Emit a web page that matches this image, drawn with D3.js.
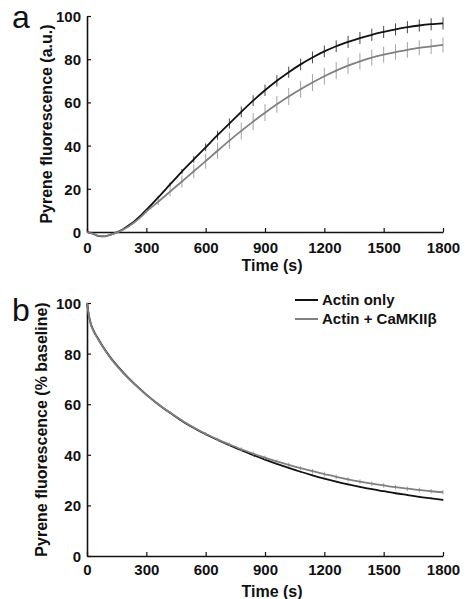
<!DOCTYPE html>
<html>
<head>
<meta charset="utf-8">
<script src="https://cdn.jsdelivr.net/npm/d3@7"></script>
<style>
  body { margin: 0; background: #fff; }
  svg { display: block; font-family: "Liberation Sans", Arial, sans-serif; }
  .tick text { font-size: 15px; font-weight: bold; fill: #111; }
  .lab { font-size: 16px; font-weight: bold; fill: #111; }
  .panel { font-size: 32px; fill: #111; }
</style>
</head>
<body>
<svg id="chart" width="467" height="599"></svg>
<script>
// Panel a: polymerization (a.u.)
const timeA = [0, 30, 60, 90, 120, 150, 180, 210, 240, 270, 300, 360, 420, 480, 540, 600, 660, 720, 780, 840, 900, 960, 1020, 1080, 1140, 1200, 1260, 1320, 1380, 1440, 1500, 1560, 1620, 1680, 1740, 1800];
const actinA = [0, -0.8, -1.9, -2.0, -1.2, -0.2, 1.2, 3.0, 5.0, 7.5, 10.2, 16.0, 22.0, 28.0, 33.6, 39.2, 44.8, 50.2, 55.6, 60.8, 65.6, 70.0, 74.0, 77.6, 80.8, 83.6, 86.0, 88.0, 89.8, 91.3, 92.6, 93.8, 94.8, 95.6, 96.2, 96.6];
const camkA = [0, -0.8, -1.8, -1.9, -1.2, -0.3, 1.0, 2.6, 4.5, 6.8, 9.4, 14.0, 18.7, 23.4, 28.1, 32.8, 37.6, 42.3, 46.8, 51.1, 55.2, 59.1, 62.7, 66.1, 69.2, 72.1, 74.7, 77.0, 79.0, 80.7, 82.1, 83.3, 84.3, 85.2, 85.9, 86.6];
const actinErrA = [0, 0, 0, 0, 0, 0, 0, 0, 0, 0, 0.4, 0.6, 0.9, 1.2, 1.5, 1.8, 2.1, 2.3, 2.5, 2.5, 2.6, 2.6, 2.6, 2.7, 2.7, 2.7, 2.7, 2.8, 2.8, 2.8, 2.8, 2.8, 2.8, 2.8, 2.8, 2.8];
const camkErrA = [0, 0, 0, 0, 0, 0, 0, 0, 0, 0, 0.8, 1.5, 2.2, 2.8, 3.2, 3.5, 3.7, 3.8, 3.9, 3.9, 3.9, 3.9, 3.9, 3.9, 3.9, 3.9, 3.9, 3.8, 3.8, 3.7, 3.7, 3.6, 3.6, 3.5, 3.5, 3.5];

// Panel b: depolymerization (% baseline)
const timeB = [0, 10, 20, 30, 60, 90, 120, 180, 240, 300, 360, 420, 480, 540, 600, 660, 720, 780, 840, 900, 960, 1020, 1080, 1140, 1200, 1260, 1320, 1380, 1440, 1500, 1560, 1620, 1680, 1740, 1800];
const actinB = [100, 95.0, 91.6, 89.6, 85.4, 81.6, 78.3, 72.8, 68.0, 63.8, 60.0, 56.6, 53.4, 50.6, 48.1, 45.9, 43.8, 41.8, 39.9, 38.1, 36.4, 34.8, 33.3, 31.9, 30.6, 29.4, 28.3, 27.3, 26.4, 25.6, 24.8, 24.1, 23.4, 22.8, 22.2];
const camkB = [100, 94.8, 91.3, 89.4, 85.2, 81.4, 78.1, 72.6, 67.9, 63.7, 60.0, 56.7, 53.6, 50.8, 48.3, 46.1, 44.1, 42.2, 40.5, 38.9, 37.4, 36.0, 34.7, 33.5, 32.4, 31.3, 30.3, 29.4, 28.6, 27.9, 27.2, 26.6, 26.1, 25.6, 25.2];
const actinErrB = [0, 0, 0, 0, 0.3, 0.3, 0.3, 0.3, 0.3, 0.3, 0.3, 0.3, 0.3, 0.3, 0.3, 0.3, 0.3, 0.3, 0.3, 0.3, 0.3, 0.3, 0.3, 0.3, 0.3, 0.3, 0.3, 0.3, 0.3, 0.3, 0.3, 0.3, 0.3, 0.3, 0.3];
const camkErrB = [0, 0, 0, 0, 0.5, 0.5, 0.5, 0.5, 0.5, 0.5, 0.6, 0.6, 0.6, 0.6, 0.7, 0.7, 0.7, 0.8, 0.8, 0.8, 0.8, 0.9, 0.9, 0.9, 0.9, 0.9, 0.9, 0.9, 0.9, 0.9, 0.9, 0.9, 0.9, 0.9, 0.9];

const xTicks = [0, 300, 600, 900, 1200, 1500, 1800];
const yTicks = [0, 20, 40, 60, 80, 100];
const seriesNames = ["Actin only", "Actin + CaMKIIβ"];
const colors = ["#111111", "#808080"];

const svg = d3.select("#chart");

function drawPanel(opts) {
  const { time, series, errs, top, bottom, letter, ylabel, ylabelX, tickY, titleY, letterY } = opts;
  const x = d3.scaleLinear().domain([0, 1800]).range([87, 443]);
  const y = d3.scaleLinear().domain([0, 100]).range([bottom, top]);
  const g = svg.append("g");

  // Axes
  const xAxis = g.append("g")
    .attr("transform", `translate(0,${bottom})`)
    .call(d3.axisBottom(x).tickValues(xTicks).tickFormat(d3.format("d"))
      .tickSize(-4).tickSizeOuter(0).tickPadding(0));
  xAxis.selectAll(".tick text").attr("y", tickY - bottom).attr("dy", null);
  const yAxis = g.append("g")
    .attr("transform", "translate(87,0)")
    .call(d3.axisLeft(y).tickValues(yTicks).tickSize(-4).tickSizeOuter(0).tickPadding(6));
  yAxis.selectAll(".tick text").attr("dy", "0.36em");
  g.selectAll(".domain").attr("stroke", "#111").attr("stroke-width", 1.6);
  g.selectAll(".tick line").attr("stroke", "#111").attr("stroke-width", 1.2);

  // Series with error bars (every 60 s)
  const line = d3.line().x((d) => x(d.t)).y((d) => y(d.v)).curve(d3.curveMonotoneX);
  series.forEach((vals, i) => {
    const pts = time.map((t, k) => ({ t, v: vals[k], e: errs[i][k] }));
    g.append("g")
      .selectAll("line")
      .data(pts.filter((d) => d.t > 0 && d.t % 60 === 0 && d.e > 0))
      .join("line")
      .attr("x1", (d) => x(d.t))
      .attr("x2", (d) => x(d.t))
      .attr("y1", (d) => y(d.v - d.e))
      .attr("y2", (d) => y(d.v + d.e))
      .attr("stroke", i === 0 ? "#333" : "#9a9a9a")
      .attr("stroke-width", 0.9);
    g.append("path")
      .datum(pts)
      .attr("fill", "none")
      .attr("stroke", colors[i])
      .attr("stroke-width", 1.8)
      .attr("d", line);
  });

  // Labels
  g.append("text").attr("class", "lab")
    .attr("x", 272).attr("y", titleY)
    .attr("text-anchor", "middle").text("Time (s)");
  g.append("text").attr("class", "lab")
    .attr("transform", `translate(${ylabelX},${(top + bottom) / 2}) rotate(-90)`)
    .attr("text-anchor", "middle").attr("dy", "0.36em").text(ylabel);
  g.append("text").attr("class", "panel")
    .attr("x", 12).attr("y", letterY).text(letter);
  return { x, y, g };
}

drawPanel({
  time: timeA, series: [actinA, camkA], errs: [actinErrA, camkErrA],
  top: 16, bottom: 232, letter: "a", ylabel: "Pyrene fluorescence (a.u.)",
  ylabelX: 46, tickY: 253, titleY: 271, letterY: 28,
});

const pb = drawPanel({
  time: timeB, series: [actinB, camkB], errs: [actinErrB, camkErrB],
  top: 303, bottom: 556, letter: "b", ylabel: "Pyrene fluorescence (% baseline)",
  ylabelX: 41, tickY: 575, titleY: 597, letterY: 321,
});

// Legend
const legend = pb.g.append("g");
seriesNames.forEach((name, i) => {
  const ly = 300 + i * 19;
  legend.append("line")
    .attr("x1", 295).attr("x2", 318).attr("y1", ly).attr("y2", ly)
    .attr("stroke", colors[i]).attr("stroke-width", 2);
  legend.append("text").attr("class", "lab")
    .attr("x", 322).attr("y", ly).attr("dy", "0.36em")
    .style("font-size", "15px").text(name);
});
</script>
</body>
</html>
